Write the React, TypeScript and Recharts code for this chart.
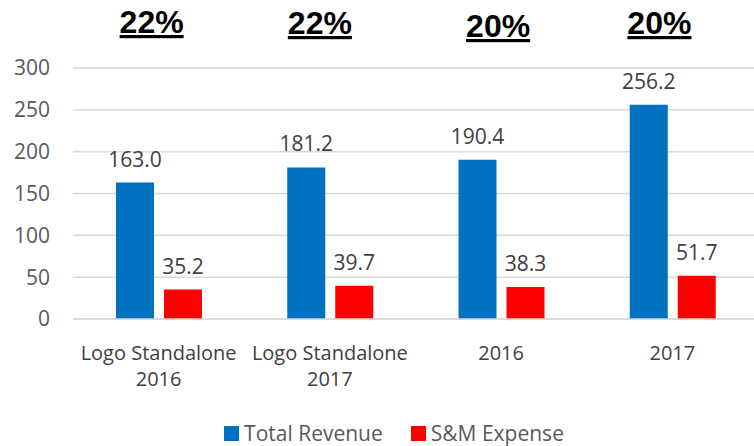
import React from "react";
import { BarChart, Bar, XAxis, YAxis, CartesianGrid, Legend, LabelList } from "recharts";

const categories = ["Logo Standalone\n2016", "Logo Standalone\n2017", "2016", "2017"];
const totalRevenue = [163.0, 181.2, 190.4, 256.2];
const smExpense = [35.2, 39.7, 38.3, 51.7];
const pctLabels = ["22%", "22%", "20%", "20%"];
const yTicks = [0, 50, 100, 150, 200, 250, 300];

// small per-label nudges of the percentage headers (style only)
const pctDx = [-7, -10, -3, -13];
const pctDy = [0, 1, 4, 1];

const data = categories.map((name, i) => ({
  name,
  revenue: totalRevenue[i],
  sm: smExpense[i],
}));

const FONT = "'Open Sans', 'Noto Sans', sans-serif";
const BLUE = "#0070C0";
const RED = "#FF0000";

const BottomTick = (props: any) => {
  const { x, y, payload } = props;
  const lines = String(payload.value).split("\n");
  return (
    <g>
      {lines.map((l: string, i: number) => (
        <text
          key={i}
          x={x}
          y={y + 33 + i * 26}
          textAnchor="middle"
          fontFamily={FONT}
          fontSize={20}
          fill="#404040"
        >
          {l}
        </text>
      ))}
    </g>
  );
};

const TopTick = (props: any) => {
  const { x, payload } = props;
  const idx = payload.index;
  return (
    <text
      x={x + pctDx[idx]}
      y={33 + pctDy[idx]}
      textAnchor="middle"
      fontFamily="'Liberation Sans', Arial, sans-serif"
      fontWeight="bold"
      fontSize={32}
      fill="#000"
      textDecoration="underline"
    >
      {pctLabels[idx]}
    </text>
  );
};

const LegendContent = () => {
  const items = [
    { label: "Total Revenue", color: BLUE },
    { label: "S&M Expense", color: RED },
  ];
  return (
    <div style={{ display: "flex", justifyContent: "center", alignItems: "center", fontFamily: FONT, fontSize: 21, color: "#595959", paddingTop: 9, paddingLeft: 30, lineHeight: "28px" }}>
      {items.map((it, i) => (
        <div key={i} style={{ display: "flex", alignItems: "center", marginLeft: i === 0 ? 0 : 28 }}>
          <span style={{ display: "inline-block", width: 15, height: 15, background: it.color, marginRight: 5 }} />
          <span>{it.label}</span>
        </div>
      ))}
    </div>
  );
};

export default function App() {
  return (
    <div style={{ position: "absolute", left: 0, top: 0, width: 754, height: 446, background: "#fff", overflow: "hidden" }}>
      <BarChart
        width={754}
        height={446}
        data={data}
        margin={{ top: 8, right: -4, bottom: 0, left: 0 }}
        barSize={38}
        barGap={10}
      >
        <CartesianGrid vertical={false} stroke="#d9d9d9" strokeWidth={1.5} />
        <XAxis
          xAxisId="top"
          orientation="top"
          dataKey="name"
          height={60}
          axisLine={false}
          tickLine={false}
          tick={<TopTick />}
          interval={0}
        />
        <XAxis
          dataKey="name"
          height={91}
          axisLine={{ stroke: "#d9d9d9", strokeWidth: 1.5 }}
          tickLine={false}
          tick={<BottomTick />}
          interval={0}
        />
        <YAxis
          width={73}
          domain={[0, 300]}
          ticks={yTicks}
          axisLine={false}
          tickLine={false}
          tickMargin={17}
          tick={{ fontFamily: FONT, fontSize: 21, fill: "#595959" }}
        />
        <Legend verticalAlign="bottom" height={36} content={<LegendContent />} />
        <Bar dataKey="revenue" name="Total Revenue" fill={BLUE} isAnimationActive={false}>
          <LabelList
            dataKey="revenue"
            position="top"
            offset={16}
            formatter={(v: any) => Number(v).toFixed(1)}
            style={{ fontFamily: FONT, fontSize: 21, fill: "#404040" }}
          />
        </Bar>
        <Bar dataKey="sm" name="S&M Expense" fill={RED} isAnimationActive={false}>
          <LabelList
            dataKey="sm"
            position="top"
            offset={16}
            formatter={(v: any) => Number(v).toFixed(1)}
            style={{ fontFamily: FONT, fontSize: 21, fill: "#404040" }}
          />
        </Bar>
      </BarChart>
    </div>
  );
}
